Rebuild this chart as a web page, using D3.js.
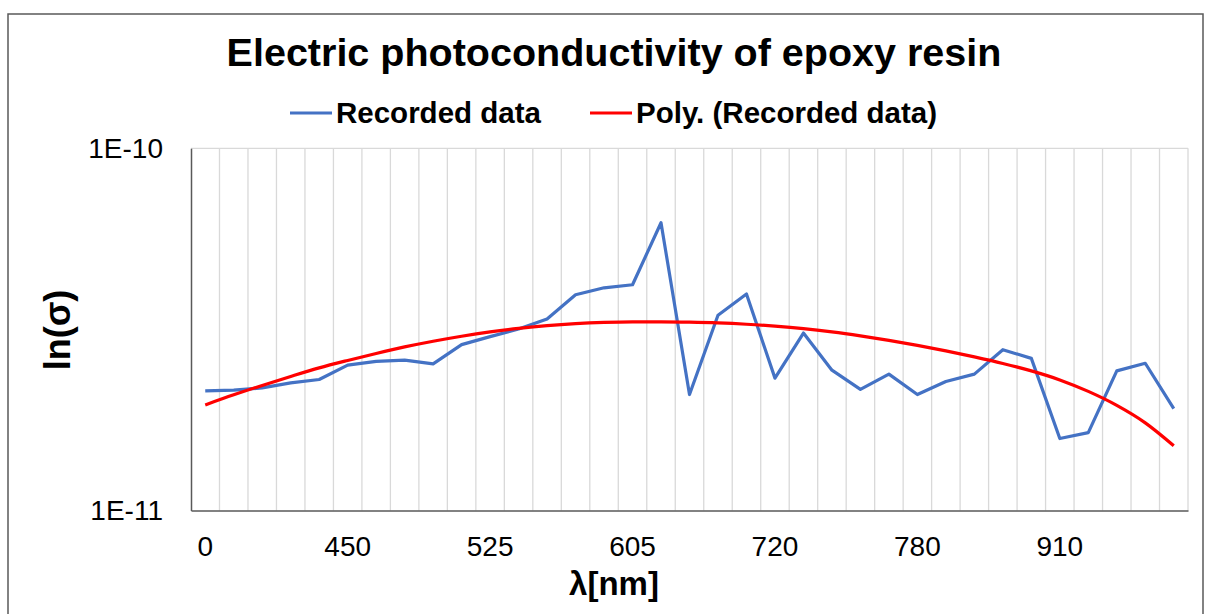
<!DOCTYPE html>
<html>
<head>
<meta charset="utf-8">
<script src="https://cdn.jsdelivr.net/npm/d3@7"></script>
<style>
  body { margin: 0; background: #fff; }
  text { font-family: Arial, "Liberation Sans", sans-serif; fill: #000; }
</style>
</head>
<body>
<svg id="chart" width="1207" height="614"></svg>
<script>
// wavelength categories (only every 5th is labelled on the axis)
var wavelengths = [0, 405, 415, 425, 440, 450, 465, 480, 495, 510,
                   525, 540, 560, 575, 590, 605, 630, 650, 675, 700,
                   720, 730, 745, 755, 770, 780, 805, 830, 860, 885,
                   910, 930, 950, 970, 990];

// recorded conductivity
var recorded = [2.14e-11, 2.15e-11, 2.18e-11, 2.25e-11, 2.30e-11, 2.52e-11, 2.58e-11, 2.60e-11, 2.54e-11, 2.87e-11,
                3.02e-11, 3.17e-11, 3.38e-11, 3.94e-11, 4.12e-11, 4.20e-11, 6.23e-11, 2.09e-11, 3.46e-11, 3.96e-11,
                2.32e-11, 3.09e-11, 2.44e-11, 2.16e-11, 2.38e-11, 2.09e-11, 2.27e-11, 2.38e-11, 2.78e-11, 2.63e-11,
                1.58e-11, 1.64e-11, 2.43e-11, 2.55e-11, 1.91e-11];

// polynomial trendline
var trend = [1.957e-11, 2.086e-11, 2.215e-11, 2.345e-11, 2.476e-11, 2.596e-11, 2.714e-11, 2.829e-11, 2.933e-11, 3.028e-11,
             3.112e-11, 3.182e-11, 3.239e-11, 3.280e-11, 3.305e-11, 3.316e-11, 3.316e-11, 3.310e-11, 3.295e-11, 3.268e-11,
             3.229e-11, 3.178e-11, 3.112e-11, 3.034e-11, 2.948e-11, 2.856e-11, 2.758e-11, 2.655e-11, 2.547e-11, 2.429e-11,
             2.294e-11, 2.132e-11, 1.951e-11, 1.746e-11, 1.509e-11];

var yTicks = [1e-11, 1e-10];
var yTickLabels = ["1E-11", "1E-10"];

var svg = d3.select("#chart");

var plotLeft = 191, plotRight = 1188, plotTop = 148.3, plotBottom = 510.5;

// outer chart border
svg.append("rect")
   .attr("x", 8).attr("y", 14)
   .attr("width", 1195).attr("height", 640)
   .attr("fill", "none")
   .attr("stroke", "#595959")
   .attr("stroke-width", 1.5);

var x = d3.scaleBand()
          .domain(d3.range(wavelengths.length))
          .range([plotLeft, plotRight]);

var y = d3.scaleLog()
          .domain([1e-11, 1e-10])
          .range([plotBottom, plotTop]);

// vertical gridlines between categories
var bounds = d3.range(1, wavelengths.length + 1).map(function(i) { return plotLeft + i * x.bandwidth(); });
svg.append("g")
   .selectAll("line")
   .data(bounds)
   .join("line")
   .attr("x1", function(d) { return d; })
   .attr("x2", function(d) { return d; })
   .attr("y1", plotTop)
   .attr("y2", plotBottom)
   .attr("stroke", "#d9d9d9")
   .attr("stroke-width", 1.3);

// horizontal gridline at the top decade
svg.append("line")
   .attr("x1", plotLeft).attr("x2", plotRight)
   .attr("y1", y(1e-10)).attr("y2", y(1e-10))
   .attr("stroke", "#d9d9d9")
   .attr("stroke-width", 1.3);

// y axis
var yAxis = d3.axisLeft(y)
              .tickValues(yTicks)
              .tickSize(0)
              .tickPadding(28)
              .tickFormat(function(d, i) { return yTickLabels[i]; });
var gy = svg.append("g")
            .attr("transform", "translate(" + plotLeft + ",0)")
            .call(yAxis);
gy.select(".domain").attr("stroke", "#595959").attr("stroke-width", 1.5);
gy.selectAll("text")
  .attr("font-size", 28)
  .attr("font-family", "Arial, 'Liberation Sans', sans-serif");

// x axis
var xAxis = d3.axisBottom(x)
              .tickSize(0)
              .tickPadding(26)
              .tickValues(d3.range(0, wavelengths.length, 5))
              .tickFormat(function(i) { return wavelengths[i]; });
var gx = svg.append("g")
            .attr("transform", "translate(0," + plotBottom + ")")
            .call(xAxis);
gx.select(".domain").attr("stroke", "#595959").attr("stroke-width", 1.5);
gx.selectAll("text")
  .attr("font-size", 28)
  .attr("font-family", "Arial, 'Liberation Sans', sans-serif");

var cx = function(d, i) { return x(i) + x.bandwidth() / 2; };

// recorded data line
svg.append("path")
   .datum(recorded)
   .attr("fill", "none")
   .attr("stroke", "#4472C4")
   .attr("stroke-width", 3.2)
   .attr("stroke-linejoin", "round")
   .attr("d", d3.line().x(cx).y(function(d) { return y(d); }));

// trendline
svg.append("path")
   .datum(trend)
   .attr("fill", "none")
   .attr("stroke", "#FF0000")
   .attr("stroke-width", 3.2)
   .attr("d", d3.line().x(cx).y(function(d) { return y(d); }).curve(d3.curveMonotoneX));

// title
svg.append("text")
   .attr("x", 614).attr("y", 66)
   .attr("text-anchor", "middle")
   .attr("font-size", 39.5)
   .attr("font-weight", "bold")
   .text("Electric photoconductivity of epoxy resin");

// legend
var legend = [
    { name: "Recorded data", color: "#4472C4", x: 290 },
    { name: "Poly. (Recorded data)", color: "#FF0000", x: 590 }
];
var lg = svg.append("g")
            .selectAll("g")
            .data(legend)
            .join("g")
            .attr("transform", function(d) { return "translate(" + d.x + ",113)"; });
lg.append("line")
  .attr("x1", 0).attr("x2", 42)
  .attr("stroke", function(d) { return d.color; })
  .attr("stroke-width", 3.2);
lg.append("text")
  .attr("x", 46).attr("y", 10)
  .attr("font-size", 29.5)
  .attr("font-weight", "bold")
  .text(function(d) { return d.name; });

// axis titles
svg.append("text")
   .attr("x", 614).attr("y", 595)
   .attr("text-anchor", "middle")
   .attr("font-size", 33)
   .attr("font-weight", "bold")
   .text("λ[nm]");

svg.append("text")
   .attr("transform", "translate(70,330) rotate(-90)")
   .attr("text-anchor", "middle")
   .attr("font-size", 36)
   .attr("font-weight", "bold")
   .text("ln(σ)");
</script>
</body>
</html>
